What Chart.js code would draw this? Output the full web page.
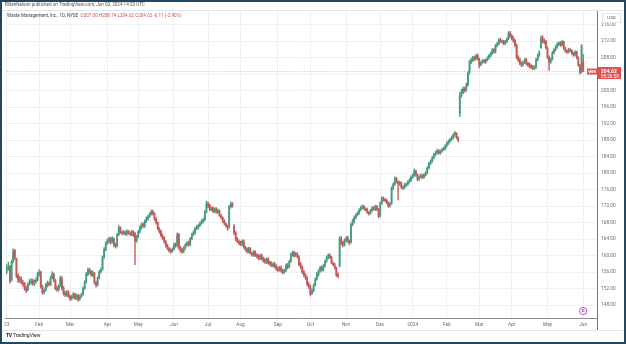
<!DOCTYPE html>
<html><head><meta charset="utf-8">
<script src="https://cdn.jsdelivr.net/npm/chart.js@4.4.1/dist/chart.umd.min.js"></script>
<style>
html,body{margin:0;padding:0;background:#fff;}
#wrap{position:relative;width:626px;height:344px;overflow:hidden;background:#fff;font-family:Roboto,"Liberation Sans",Arial,sans-serif;}
#frame{position:absolute;left:0;top:0;width:622px;height:340px;border:2px solid #21485c;pointer-events:none;z-index:6}
#c{position:absolute;left:0;top:0;width:626px;height:344px;}
.txt{position:absolute;white-space:nowrap;z-index:4;line-height:1}
.ln{position:absolute;z-index:3}
.r{color:#d2504c}
.g{color:#6a6d78}
</style></head><body>
<div id="wrap">
<canvas id="c" width="626" height="344"></canvas>
<div class="ln" style="left:2px;top:10px;width:621px;height:1px;background:#e0e3eb"></div>
<div class="ln" style="left:2px;top:330px;width:621px;height:1px;background:#e0e3eb"></div>
<div class="ln" style="left:597px;top:318px;width:1px;height:12px;background:#777"></div>
<div class="txt" style="left:5px;top:3px;font-size:4.6px;color:#555">BillenNelson published on TradingView.com, Jun 03, 2024 14:33 UTC</div>
<div class="txt" style="left:7px;top:13.5px;font-size:4.6px;color:#444">Waste Management, Inc., 1D, NYSE&nbsp;&nbsp;<span class="g">O</span><span class="r">207.00</span> <span class="g">H</span><span class="r">208.74</span> <span class="g">L</span><span class="r">204.62</span> <span class="g">C</span><span class="r">204.62</span> <span class="r">-6.11 (-2.90%)</span></div>
<div class="txt" style="left:602px;top:13px;width:17px;height:8px;border:0.5px solid #e0e3eb;background:#fff;font-size:4.4px;color:#555;text-align:center;line-height:8px">USD</div>
<div class="txt" style="left:6px;top:333px;font-size:5px;color:#222"><b style="letter-spacing:-0.3px">TV</b> TradingView</div>
<div id="frame"></div>
</div>
<script>
// ---------- DATA ----------
const monthStarts = [0,20,39,62,81,103,124,144,167,187,209,230,250,271,291,311,333,355];
const monthLabels = ['23','Feb','Mar','Apr','May','Jun','Jul','Aug','Sep','Oct','Nov','Dec','2024','Feb','Mar','Apr','May','Jun'];
const yTicks = [148,152,156,160,164,168,172,176,180,184,188,192,196,200,204,208,212,216];
const emptySlots = 8;

const opens = [
156.2,157.0,157.3,154.0,158.6,161.2,159.2,155.2,154.0,154.3,153.4,153.1,152.1,151.6,153.1,153.4,153.9,153.1,153.7,154.1,
155.4,155.9,152.4,151.1,151.6,152.7,153.3,152.9,154.6,155.4,153.9,152.1,151.7,152.6,154.4,152.1,150.9,150.4,151.1,
150.1,149.6,149.9,150.5,149.6,150.3,149.5,150.1,150.6,152.1,153.6,155.4,156.6,156.1,155.2,155.7,153.4,152.9,154.6,156.1,156.7,159.6,161.4,
163.1,163.4,164.1,163.3,164.1,162.6,162.4,165.1,166.7,165.7,165.3,165.7,165.2,165.8,165.4,165.1,165.7,165.3,163.6,
164.6,165.9,166.7,167.6,167.1,168.4,168.9,169.5,170.1,170.7,170.1,168.8,167.9,166.4,165.9,164.7,164.3,163.3,162.4,161.7,161.3,161.1,
161.6,162.7,162.5,165.1,161.9,161.4,161.1,161.9,162.6,163.1,162.6,164.1,165.1,165.5,166.6,166.7,167.3,167.9,168.2,168.7,170.6,
172.6,172.1,171.1,171.5,170.7,171.3,170.5,170.8,169.7,169.1,168.4,167.7,167.1,167.0,171.9,172.6,167.0,165.4,163.9,163.4,
163.1,162.7,163.5,161.9,161.6,160.9,161.7,160.5,160.1,160.9,160.1,159.9,159.3,160.0,159.3,158.9,158.4,159.1,158.3,158.1,157.5,158.0,157.4,
156.9,156.5,157.1,156.3,156.0,156.4,157.7,157.3,158.6,160.1,160.7,160.1,160.3,159.7,157.9,157.1,156.1,155.3,154.5,153.1,
152.4,150.9,151.5,152.9,154.3,155.4,156.3,157.1,156.5,157.5,158.7,159.4,160.1,159.5,158.1,157.7,156.9,155.3,157.5,164.0,163.1,162.6,
163.7,164.3,163.4,163.2,167.6,168.3,169.3,169.9,170.3,171.1,171.7,171.9,171.3,171.2,170.4,170.3,170.9,171.6,171.2,171.9,171.1,
169.7,172.7,173.9,173.5,173.4,172.7,172.1,172.6,176.4,177.3,178.7,177.8,177.3,177.7,176.5,176.5,177.0,177.3,177.9,178.3,
179.1,179.5,180.4,179.5,178.5,179.1,179.4,179.0,179.6,180.1,181.3,182.3,182.9,183.7,184.5,184.9,185.4,184.8,185.3,185.7,185.9,
186.6,187.2,187.7,188.2,188.6,189.3,189.6,188.5,194.3,198.9,199.5,200.5,200.1,201.4,204.4,206.9,207.3,208.0,207.8,208.5,
207.7,206.3,206.9,207.3,206.9,207.5,207.9,208.5,209.0,209.9,209.4,210.9,211.4,212.3,211.9,211.9,211.4,211.9,212.6,214.0,
213.3,212.8,212.1,211.0,208.1,207.5,206.7,206.3,206.9,207.5,206.6,206.3,206.0,205.8,205.4,205.7,207.5,208.6,210.5,212.8,212.1,211.9,
210.3,208.2,207.0,207.7,209.2,209.9,210.6,211.3,211.6,211.1,211.9,210.2,209.7,209.4,210.0,209.7,209.1,208.7,209.4,207.9,206.1,204.6,207.00
];
const highs = [
157.8,158.4,157.6,158.9,161.6,161.5,159.4,155.6,155.0,154.8,154.0,153.5,152.6,153.4,154.2,154.4,154.3,154.1,154.6,156.0,
156.6,156.2,152.8,152.0,153.2,153.8,153.7,155.0,156.1,155.8,154.2,152.6,152.9,155.0,154.9,152.5,151.4,151.5,151.5,
150.5,150.3,151.0,150.9,150.7,150.6,150.4,150.9,152.4,153.9,155.9,157.0,156.9,156.4,156.3,155.9,153.8,154.9,156.4,157.0,159.9,161.9,163.4,
164.0,164.5,164.4,164.6,164.3,163.0,165.4,167.4,167.0,166.0,166.1,165.9,166.3,166.1,165.8,166.2,166.0,165.6,164.9,
166.1,167.2,167.9,167.9,168.6,169.4,169.8,170.4,171.0,171.0,170.4,169.2,168.2,166.8,166.2,165.2,164.6,163.6,162.7,162.0,161.6,161.9,
163.0,163.1,165.5,165.4,162.2,161.8,162.2,162.9,163.4,163.5,164.4,165.4,166.0,166.9,167.3,167.6,168.2,168.7,169.0,170.9,173.2,
173.0,172.5,171.8,171.8,171.6,171.6,171.3,171.1,170.0,169.4,168.7,168.0,167.4,172.2,173.0,172.9,167.5,165.8,164.4,163.8,
163.5,163.8,163.8,162.3,161.9,162.0,162.0,160.9,161.2,161.2,160.5,160.3,160.3,160.4,159.6,159.3,159.4,159.5,158.7,158.5,158.3,158.4,157.8,
157.3,157.4,157.5,156.7,156.7,158.0,158.1,158.9,160.6,161.1,161.0,160.8,160.7,160.0,158.3,157.5,156.4,155.6,154.9,153.5,
152.8,151.9,153.1,154.6,155.9,156.6,157.4,157.5,157.8,158.9,159.9,160.4,160.4,159.8,158.5,158.1,157.2,155.8,164.6,164.6,163.5,164.0,
164.6,164.7,163.8,167.9,168.8,169.6,170.2,170.6,171.4,172.0,172.3,172.2,171.6,171.5,170.7,171.2,171.9,171.9,172.2,172.2,171.4,
173.0,174.3,174.2,173.9,173.6,173.0,172.9,176.7,177.6,179.1,179.0,178.2,178.0,177.9,176.9,177.5,177.6,178.2,178.6,179.4,
179.8,181.0,180.7,179.8,179.4,179.8,179.7,179.9,180.4,181.6,182.6,183.2,184.0,184.8,185.3,185.8,185.7,185.6,186.0,186.3,186.9,
187.6,188.0,188.5,189.0,189.6,190.1,189.8,188.8,199.6,200.3,200.9,200.8,201.8,204.6,207.4,207.9,208.3,208.4,208.8,208.9,
207.9,207.1,207.6,207.6,207.7,208.2,208.8,209.3,210.2,210.2,211.2,211.7,212.6,212.7,212.3,212.2,212.2,212.8,214.3,214.4,
213.6,213.1,212.4,211.3,208.5,207.9,207.0,207.2,207.9,207.8,206.9,206.7,206.3,206.1,206.0,207.8,208.9,209.7,213.3,213.3,212.6,212.2,
210.6,208.5,207.9,209.5,210.2,210.9,211.6,211.9,211.9,212.2,212.0,210.5,209.9,210.3,210.2,209.9,209.3,209.7,209.6,208.2,206.4,211.2,208.74
];
const lows = [
155.6,156.4,153.3,153.8,158.2,159.0,154.6,153.4,153.5,153.1,152.5,151.6,151.0,151.4,152.8,153.0,152.8,152.7,153.3,153.8,
155.0,152.1,150.6,150.7,151.3,152.3,152.6,152.7,154.3,153.6,151.7,151.3,151.4,152.4,151.6,150.4,150.0,150.1,149.8,
149.1,149.2,149.6,149.3,149.3,148.9,149.1,149.8,150.3,151.8,153.3,155.1,155.6,155.0,154.9,153.1,152.3,152.6,154.3,155.8,156.4,159.3,161.1,
162.7,163.0,162.8,163.0,162.1,161.8,162.1,164.8,165.4,165.0,165.1,164.9,164.9,165.2,164.8,164.8,164.6,157.8,163.2,
164.3,165.5,166.4,166.8,166.8,168.0,168.5,169.2,169.8,169.8,168.5,167.6,166.2,165.4,164.5,163.9,163.0,162.0,161.4,160.8,160.6,160.8,
161.3,162.0,162.1,161.5,160.8,160.5,160.7,161.5,162.2,162.3,162.3,163.8,164.8,165.2,166.3,166.4,167.0,167.6,167.9,168.4,170.3,
171.6,170.9,170.8,170.4,170.4,170.2,170.2,169.5,168.9,168.0,167.4,166.9,166.1,166.6,171.5,171.7,165.0,163.6,163.1,162.6,
162.4,162.3,161.7,161.1,160.6,160.6,160.3,159.8,159.8,159.7,159.4,159.0,159.0,158.9,158.4,158.1,158.0,157.9,157.6,157.3,157.2,157.0,156.4,
156.0,156.2,155.9,155.5,155.7,156.1,156.8,157.0,158.3,159.8,159.6,159.7,159.4,157.5,156.8,155.6,154.8,154.2,152.6,152.0,
150.2,150.5,151.2,152.6,154.0,155.0,155.9,156.2,156.2,157.2,158.4,159.2,159.3,158.0,157.5,156.7,154.9,154.6,157.2,162.6,162.1,162.3,
163.3,163.2,162.6,163.0,167.2,167.9,168.9,169.6,169.9,170.8,171.3,171.0,170.8,170.2,169.8,170.0,170.6,171.0,170.9,170.9,169.1,
169.4,172.4,173.2,173.0,172.5,171.7,171.7,172.4,176.0,177.0,177.6,173.5,177.0,176.3,176.0,176.2,176.7,177.0,177.6,178.0,
178.7,179.2,179.2,178.1,178.2,178.8,178.6,178.7,179.3,179.8,181.0,182.0,182.6,183.4,184.2,184.6,184.6,184.5,185.0,185.4,185.6,
186.3,186.9,187.4,187.9,188.3,188.9,188.3,187.6,193.7,198.4,199.2,199.6,199.8,201.1,204.0,206.5,207.0,207.3,207.4,207.4,
205.5,206.0,206.6,206.7,206.6,207.2,207.6,208.2,208.8,209.1,209.1,210.6,211.1,211.7,211.5,211.1,211.1,211.6,212.3,212.9,
212.3,211.7,210.6,207.7,207.0,206.2,205.8,205.9,206.5,206.2,205.8,205.5,205.3,205.1,205.1,205.4,207.2,208.3,210.2,211.6,211.3,210.1,
207.8,204.9,206.6,207.4,208.9,209.6,210.3,210.9,210.7,210.8,210.0,209.3,209.0,209.1,209.4,208.7,208.3,208.4,207.7,205.9,204.0,204.3,204.62
];
const closes = [
157.0,157.2,153.8,158.5,161.0,159.5,155.0,154.0,154.2,153.5,153.0,152.0,151.5,153.0,153.5,153.8,153.2,153.6,154.0,155.5,
155.8,152.5,151.0,151.5,152.8,153.2,153.0,154.5,155.5,154.0,152.0,151.8,152.5,154.5,152.0,150.8,150.5,151.0,150.2,
149.5,149.8,150.6,149.7,150.2,149.4,150.0,150.5,152.0,153.5,155.5,156.5,156.0,155.3,155.8,153.5,152.8,154.5,156.0,156.5,159.5,161.5,163.0,
163.5,164.0,163.2,164.2,162.5,162.3,165.0,166.8,165.8,165.4,165.6,165.3,165.9,165.5,165.2,165.8,164.9,163.5,164.5,
165.8,166.8,167.5,167.2,168.3,169.0,169.4,170.0,170.6,170.2,168.9,168.0,166.5,165.8,164.8,164.2,163.4,162.3,161.8,161.2,161.0,161.5,
162.6,162.4,165.0,161.8,161.3,161.0,161.8,162.5,163.0,162.7,164.0,165.0,165.6,166.5,166.8,167.2,167.8,168.3,168.6,170.5,172.5,
172.0,171.2,171.4,170.8,171.2,170.6,170.9,169.8,169.2,168.3,167.8,167.2,166.6,171.8,172.5,172.0,165.5,164.0,163.5,163.0,
162.8,163.4,162.0,161.5,161.0,161.6,160.6,160.2,160.8,160.0,159.8,159.4,159.9,159.2,158.8,158.5,159.0,158.2,158.0,157.6,157.9,157.3,156.8,
156.4,157.0,156.2,155.9,156.3,157.6,157.2,158.5,160.2,160.6,160.0,160.4,159.8,157.8,157.2,156.0,155.2,154.6,153.0,152.5,
150.8,151.4,152.8,154.2,155.5,156.2,157.0,156.6,157.4,158.6,159.5,160.0,159.6,158.2,157.8,157.0,155.2,155.0,164.2,163.0,162.5,163.6,
164.2,163.5,163.0,167.5,168.4,169.2,169.8,170.2,171.0,171.6,171.8,171.4,171.1,170.5,170.2,170.8,171.5,171.3,171.8,171.2,169.5,
172.6,173.8,173.6,173.3,172.8,172.0,172.5,176.3,177.2,178.6,177.9,177.4,177.6,176.6,176.4,177.1,177.2,177.8,178.2,179.0,
179.4,180.5,179.6,178.4,179.0,179.3,178.9,179.5,180.0,181.2,182.2,182.8,183.6,184.4,184.8,185.3,184.9,185.2,185.6,185.9,186.5,
187.3,187.6,188.1,188.5,189.2,189.7,188.6,188.0,198.8,199.4,200.4,200.0,201.3,204.2,207.0,207.4,207.9,207.7,208.4,207.9,
206.2,206.8,207.2,207.0,207.4,207.8,208.4,208.9,209.8,209.5,210.8,211.3,212.2,212.0,211.8,211.5,211.8,212.5,213.9,213.2,
212.7,212.0,211.0,208.0,207.4,206.6,206.2,206.8,207.4,206.5,206.2,205.9,205.7,205.5,205.6,207.4,208.5,209.3,212.7,212.0,211.8,210.4,
208.1,206.9,207.6,209.1,209.8,210.5,211.2,211.5,211.0,211.8,210.3,209.6,209.3,209.9,209.8,209.0,208.6,209.3,208.0,206.2,204.4,210.73,204.62
];
// ---------- STYLE ----------
const UP = '#4a9a7f', DOWN = '#c25a57', GRID = '#eef0f3', LABEL = '#6a6d78', PRICE_RED = '#e0514d';
const FONT = 'Roboto, "Liberation Sans", Arial, sans-serif';

const nSlots = closes.length + emptySlots;
const categories = Array.from({length: nSlots}, (_, i) => i);
const bodies = opens.map((o, i) => [o, closes[i]]);
const wicks = highs.map((h, i) => [Math.min(lows[i], opens[i], closes[i]), Math.max(h, opens[i], closes[i])]);
const candleColor = ctx => (closes[ctx.dataIndex] >= opens[ctx.dataIndex] ? UP : DOWN);
const lastClose = closes[closes.length - 1];

const overlay = {
  id: 'overlay',
  afterDraw(chart) {
    const {ctx, chartArea, scales: {x, y}} = chart;
    const py = y.getPixelForValue(lastClose);
    ctx.save();
    ctx.fillStyle = PRICE_RED;
    ctx.fillRect(chartArea.right + 1, py - 4.5, 23, 12);
    ctx.fillRect(chartArea.right - 10, py - 3, 10, 6);
    ctx.fillStyle = '#fff';
    ctx.textBaseline = 'middle';
    ctx.textAlign = 'left';
    ctx.font = 'bold 5px ' + FONT;
    ctx.fillText(lastClose.toFixed(2), chartArea.right + 4, py);
    ctx.font = '4.6px ' + FONT;
    ctx.fillText('05:26:58', chartArea.right + 4, py + 5);
    ctx.textAlign = 'center';
    ctx.font = 'bold 4.4px ' + FONT;
    ctx.fillText('WM', chartArea.right - 5, py);
    // dividend marker
    const cx = x.getPixelForValue(closes.length - 1);
    const cy = chartArea.bottom - 7;
    ctx.beginPath();
    ctx.arc(cx, cy, 3.6, 0, Math.PI * 2);
    ctx.fillStyle = '#fff';
    ctx.fill();
    ctx.strokeStyle = '#9c27b0';
    ctx.lineWidth = 0.8;
    ctx.stroke();
    ctx.fillStyle = '#9c27b0';
    ctx.font = 'bold 4px ' + FONT;
    ctx.fillText('D', cx, cy + 0.3);
    ctx.restore();
  }
};

new Chart(document.getElementById('c'), {
  data: {
    labels: categories,
    datasets: [
      {type: 'line', data: categories.map(() => lastClose), borderColor: 'rgba(224,81,77,0.55)', borderWidth: 0.8, borderDash: [1, 1.5], pointRadius: 0, order: 3},
      {type: 'bar', data: wicks, backgroundColor: candleColor, barThickness: 0.7, grouped: false, borderWidth: 0, order: 2},
      {type: 'bar', data: bodies, backgroundColor: candleColor, barThickness: 1.2, grouped: false, borderWidth: 0, order: 1}
    ]
  },
  options: {
    responsive: false,
    animation: false,
    devicePixelRatio: 1,
    layout: {padding: {left: 3, top: 11, right: 0, bottom: 0}},
    plugins: {legend: {display: false}, tooltip: {enabled: false}},
    scales: {
      x: {
        type: 'category',
        offset: true,
        grid: {
          offset: false, drawTicks: false, lineWidth: 1,
          color: ctx => (ctx.tick && monthStarts.includes(ctx.tick.value)) ? GRID : 'rgba(0,0,0,0)'
        },
        border: {display: true, color: '#8a8d96', width: 1},
        ticks: {
          autoSkip: false, maxRotation: 0, minRotation: 0, padding: 4,
          color: LABEL, font: {size: 4.8, family: FONT},
          callback: (v, i) => { const k = monthStarts.indexOf(i); return k >= 0 ? monthLabels[k] : ''; }
        },
        afterFit: s => { s.height = 26; }
      },
      y: {
        position: 'right',
        min: 144.85, max: 219.3,
        afterBuildTicks: s => { s.ticks = yTicks.map(v => ({value: v})); },
        grid: {drawTicks: false, color: GRID, lineWidth: 1},
        border: {display: true, color: '#777', width: 1},
        ticks: {padding: 4, color: LABEL, font: {size: 4.8, family: FONT}, callback: v => Number(v).toFixed(2)},
        afterFit: s => { s.width = 29; }
      }
    }
  },
  plugins: [overlay]
});
</script>
</body></html>
